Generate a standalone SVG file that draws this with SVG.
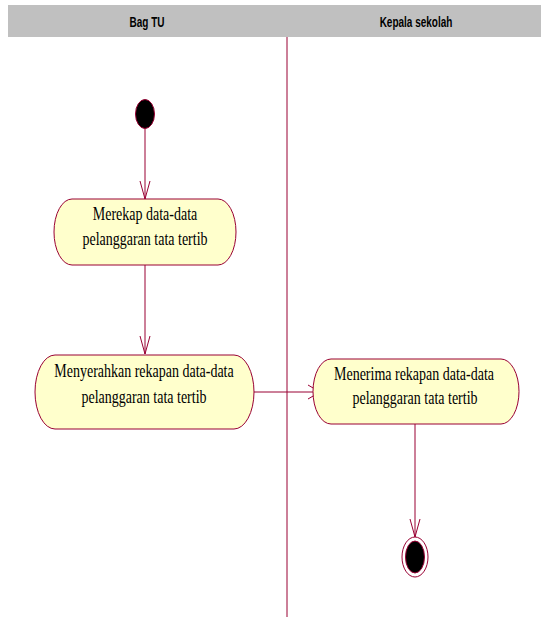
<svg xmlns="http://www.w3.org/2000/svg" width="541" height="617" viewBox="0 0 541 617">
<style>
.hdr{font-family:"Liberation Sans",Arial,sans-serif;font-weight:bold;font-size:10px;fill:#000;text-anchor:middle}
.act{fill:#ffffcc;stroke:#990033;stroke-width:1}
.lbl{font-family:"Liberation Serif","Times New Roman",serif;font-size:14px;fill:#000;text-anchor:middle}
.ln{fill:none;stroke:#990033;stroke-width:1}
</style>
<rect x="0" y="0" width="541" height="617" fill="#ffffff"/>
<g id="swimlanes">
<rect x="8" y="5" width="533" height="32" fill="#c0c0c0"/>
<text class="hdr" transform="translate(147,27) scale(1,1.4)">Bag TU</text>
<text class="hdr" transform="translate(416,27) scale(1,1.4)">Kepala sekolah</text>
<line x1="287" y1="37" x2="287" y2="617" stroke="#990033" stroke-width="1"/>
</g>
<g id="connectors">
<line class="ln" x1="145" y1="128" x2="145" y2="199"/>
<polyline class="ln" points="140,181 145,199 150,181"/>
<line class="ln" x1="145" y1="265" x2="145" y2="354"/>
<polyline class="ln" points="140,336 145,354 150,336"/>
<line class="ln" x1="246" y1="392" x2="320" y2="392"/>
<polyline class="ln" points="308,385 320,392 308,399"/>
<line class="ln" x1="415" y1="424" x2="415" y2="537"/>
<polyline class="ln" points="410,519 415,537 420,519"/>
</g>
<g id="start">
<ellipse cx="145" cy="114" rx="9.5" ry="14.5" fill="#000" stroke="#990033" stroke-width="1"/>
</g>
<g id="act1">
<rect class="act" x="54" y="199" width="182" height="66" rx="18" ry="33"/>
<text class="lbl" transform="translate(145,220) scale(1,1.4)">Merekap data-data</text>
<text class="lbl" transform="translate(145,245) scale(1,1.4)">pelanggaran tata tertib</text>
</g>
<g id="act2">
<rect class="act" x="35" y="355" width="219" height="74" rx="20" ry="37"/>
<text class="lbl" transform="translate(144,377) scale(1,1.4)">Menyerahkan rekapan data-data</text>
<text class="lbl" transform="translate(144,403) scale(1,1.4)">pelanggaran tata tertib</text>
</g>
<g id="act3">
<rect class="act" x="313" y="359" width="206" height="65" rx="18" ry="32.5"/>
<text class="lbl" transform="translate(414,380) scale(1,1.4)">Menerima rekapan data-data</text>
<text class="lbl" transform="translate(415,404) scale(1,1.4)">pelanggaran tata tertib</text>
</g>
<g id="end">
<ellipse cx="415" cy="557" rx="13" ry="20" fill="#fff" stroke="#990033" stroke-width="1"/>
<ellipse cx="415" cy="557" rx="9.5" ry="16" fill="#000" stroke="#990033" stroke-width="1"/>
</g>
</svg>
